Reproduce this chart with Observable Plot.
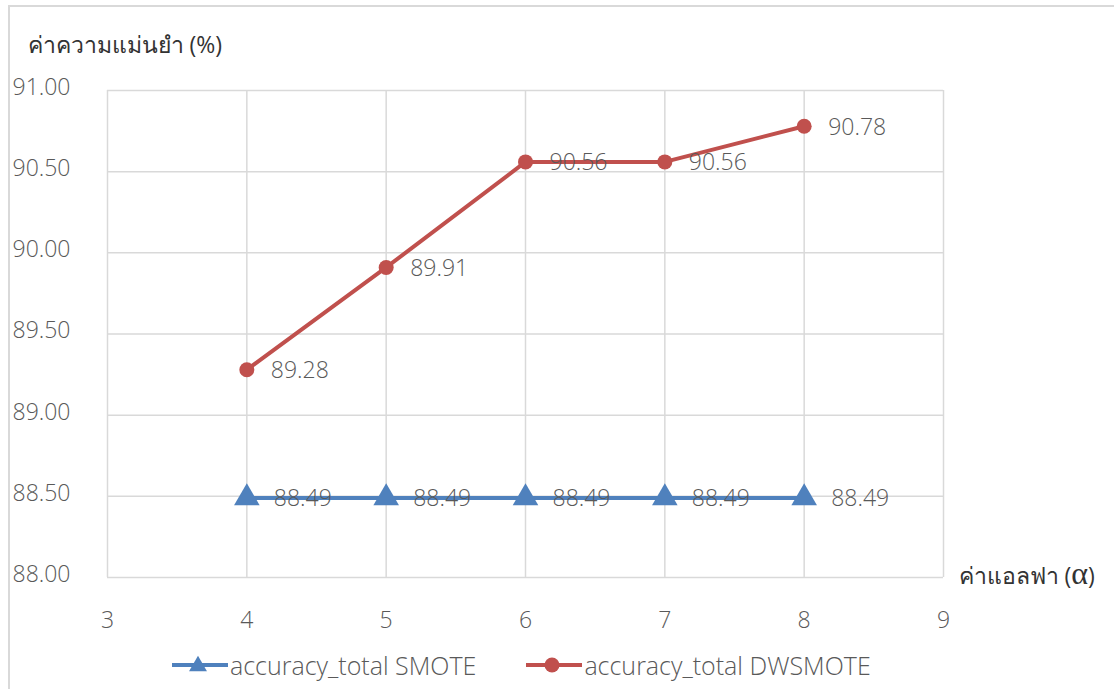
<!DOCTYPE html>
<html>
<head>
<meta charset="utf-8">
<script src="https://cdn.jsdelivr.net/npm/d3@7"></script>
<script src="https://cdn.jsdelivr.net/npm/@observablehq/plot@0.6"></script>
<style>
  body { margin: 0; background: #fff; overflow: hidden; }
  #frame { position: absolute; left: 8px; top: 5px; width: 1200px; height: 800px; border: 2px solid #d9d9d9; box-sizing: border-box; }
  #chart { position: absolute; left: 0; top: 0; }
  #legend { position: absolute; left: 172px; top: 648px; display: flex; align-items: center;
            font-family: "Open Sans", "Noto Sans", sans-serif; font-weight: 300; font-size: 25px; color: #595959; }
  .item { display: flex; align-items: center; }
  .item svg { display: block; margin-right: 2px; }
  .gap { width: 50px; }
</style>
</head>
<body>
<div id="frame"></div>
<div id="chart"></div>
<div id="legend"></div>
<script>
// Alpha values on the x axis
const alphas = [4, 5, 6, 7, 8];
// Accuracy (%) for each method
const smote = [88.49, 88.49, 88.49, 88.49, 88.49];
const dwsmote = [89.28, 89.91, 90.56, 90.56, 90.78];
// Series names
const smoteName = "accuracy_total SMOTE";
const dwsmoteName = "accuracy_total DWSMOTE";
// Axis ticks and titles
const xTicks = [3, 4, 5, 6, 7, 8, 9];
const yTicks = [88.0, 88.5, 89.0, 89.5, 90.0, 90.5, 91.0];
const yTitle = "ค่าความแม่นยำ (%)";
const xTitle = "ค่าแอลฟา (α)";

const blue = "#4f81bd";
const red = "#c0504d";
const ink = "#595959";
const grid = "#d9d9d9";
const font = "'Open Sans', 'Noto Sans', sans-serif";

const smoteData = alphas.map((a, i) => ({alpha: a, acc: smote[i]}));
const dwsData = alphas.map((a, i) => ({alpha: a, acc: dwsmote[i]}));

const chart = Plot.plot({
  width: 1114,
  height: 640,
  marginLeft: 107,
  marginRight: 171,
  marginTop: 90,
  marginBottom: 63,
  x: {domain: [3, 9]},
  y: {domain: [88, 91]},
  style: {fontFamily: font, fontSize: "23px", fontWeight: 300, color: ink, background: "transparent", overflow: "visible"},
  marks: [
    Plot.gridX(xTicks, {stroke: grid, strokeOpacity: 1, strokeWidth: 1.5}),
    Plot.gridY(yTicks, {stroke: grid, strokeOpacity: 1, strokeWidth: 1.5}),
    Plot.axisX(xTicks, {tickSize: 0, tickPadding: 34, tickFormat: d => String(d), fill: ink, label: null}),
    Plot.axisY(yTicks, {tickSize: 0, tickPadding: 95, textAnchor: "start", dy: -3,
                        tickFormat: d => d.toFixed(2), fill: ink, label: null}),
    // SMOTE series
    Plot.line(smoteData, {x: "alpha", y: "acc", stroke: blue, strokeWidth: 4}),
    Plot.dot(smoteData, {x: "alpha", y: "acc", symbol: "triangle", r: 9.5, fill: blue, stroke: null}),
    Plot.text(smoteData, {x: "alpha", y: "acc", text: d => d.acc.toFixed(2), dx: 27, dy: 1,
                          textAnchor: "start", fill: ink, fontSize: 23}),
    // DWSMOTE series
    Plot.line(dwsData, {x: "alpha", y: "acc", stroke: red, strokeWidth: 4}),
    Plot.dot(dwsData, {x: "alpha", y: "acc", r: 7.5, fill: red, stroke: null}),
    Plot.text(dwsData, {x: "alpha", y: "acc", text: d => d.acc.toFixed(2), dx: 24, dy: 1,
                        textAnchor: "start", fill: ink, fontSize: 23}),
    // Axis titles
    Plot.text([yTitle], {frameAnchor: "top-left", text: d => d, dx: -80, dy: -45,
                         textAnchor: "start", lineAnchor: "middle", fill: "#333333", fontSize: 23, fontWeight: 400}),
    Plot.text([xTitle], {frameAnchor: "bottom-right", text: d => d, dx: 15, dy: -1,
                         textAnchor: "start", lineAnchor: "middle", fill: "#333333", fontSize: 23, fontWeight: 400})
  ]
});
document.getElementById("chart").appendChild(chart);

// Render the alpha symbol of the x title in a larger serif face
d3.select(chart).selectAll("text").filter(function () { return this.textContent === xTitle; })
  .each(function () {
    const t = d3.select(this);
    t.text(null);
    t.append("tspan").text("ค่าแอลฟา (");
    t.append("tspan").text("α").style("font-family", "'Liberation Serif', 'DejaVu Serif', serif").style("font-size", "32px");
    t.append("tspan").text(")");
  });

// Legend
const legend = d3.select("#legend");
function addItem(name, color, shape) {
  const item = legend.append("div").attr("class", "item");
  const svg = item.append("svg").attr("width", 56).attr("height", 28);
  svg.append("line").attr("x1", 0).attr("x2", 56).attr("y1", 14).attr("y2", 14)
     .attr("stroke", color).attr("stroke-width", 4);
  if (shape === "triangle") {
    svg.append("path").attr("transform", "translate(26,15)")
       .attr("d", d3.symbol(d3.symbolTriangle2, 230)()).attr("fill", color);
  } else {
    svg.append("circle").attr("cx", 26).attr("cy", 14).attr("r", 7.5).attr("fill", color);
  }
  item.append("span").text(name);
}
addItem(smoteName, blue, "triangle");
legend.append("div").attr("class", "gap");
addItem(dwsmoteName, red, "circle");
</script>
</body>
</html>
